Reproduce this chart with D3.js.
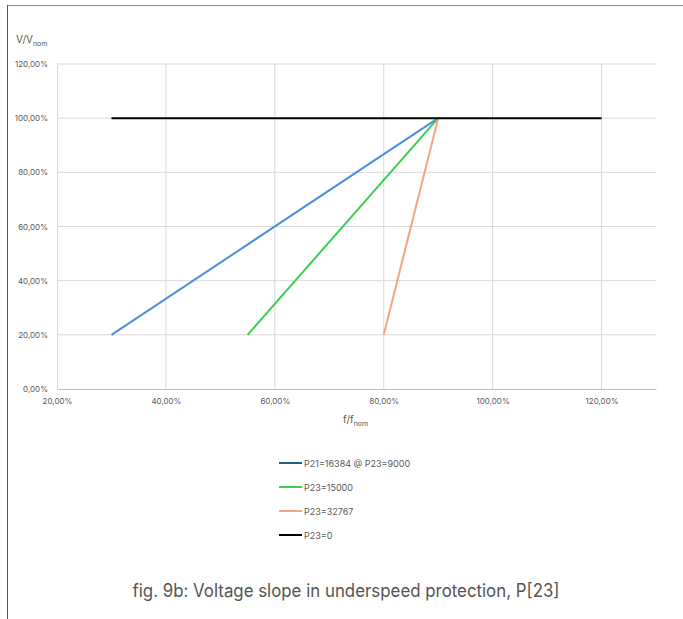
<!DOCTYPE html>
<html>
<head>
<meta charset="utf-8">
<script src="https://cdn.jsdelivr.net/npm/d3@7"></script>
<style>
  body { margin: 0; background: #fff; }
  text { font-family: Inter, "Noto Sans", sans-serif; }
</style>
</head>
<body>
<div id="chart"></div>
<script>
// Series (x = f/fnom, y = V/Vnom)
var seriesNames = ['P21=16384 @ P23=9000', 'P23=15000', 'P23=32767', 'P23=0'];
var seriesX = [[0.30, 0.90], [0.55, 0.90], [0.80, 0.90], [0.30, 1.20]];
var seriesY = [[0.20, 1.00], [0.20, 1.00], [0.20, 1.00], [1.00, 1.00]];
var xTicks = [0.2, 0.4, 0.6, 0.8, 1.0, 1.2];
var yTicks = [0, 0.2, 0.4, 0.6, 0.8, 1.0, 1.2];

var lineColors = ['#4a90d9', '#3ccf4e', '#f4a582', '#000000'];
var legendColors = ['#1f5f8c', '#3ccf4e', '#f4a582', '#000000'];

var width = 683, height = 619;
var margin = { top: 64, right: 27, bottom: 230, left: 57 };
var w = width - margin.left - margin.right;
var h = height - margin.top - margin.bottom;

var svg = d3.select('#chart').append('svg')
    .attr('width', width)
    .attr('height', height);

// frame
svg.append('line').attr('x1', 7).attr('x2', width).attr('y1', 5.5).attr('y2', 5.5)
    .attr('stroke', '#8a8a8a').attr('stroke-width', 1.2);
svg.append('line').attr('x1', 7.5).attr('x2', 7.5).attr('y1', 5).attr('y2', height)
    .attr('stroke', '#555').attr('stroke-width', 1);

var g = svg.append('g').attr('transform', 'translate(' + margin.left + ',' + margin.top + ')');

var x = d3.scaleLinear().domain([0.2, 1.3]).range([0, w]);
var y = d3.scaleLinear().domain([0, 1.2]).range([h, 0]);

var fmt = function (d) { return d3.format('.2f')(d * 100).replace('.', ',') + '%'; };

// grid
g.append('g').selectAll('line').data(xTicks.slice(1)).enter().append('line')
    .attr('x1', d => x(d)).attr('x2', d => x(d))
    .attr('y1', 0).attr('y2', h)
    .attr('stroke', '#d9d9d9');
g.append('g').selectAll('line').data(yTicks.slice(1)).enter().append('line')
    .attr('x1', 0).attr('x2', w)
    .attr('y1', d => y(d)).attr('y2', d => y(d))
    .attr('stroke', '#d9d9d9');

// axes
var xAxis = g.append('g')
    .attr('transform', 'translate(0,' + h + ')')
    .call(d3.axisBottom(x).tickValues(xTicks).tickFormat(fmt).tickSize(0).tickPadding(9));
xAxis.select('.domain').attr('stroke', '#bfbfbf');
xAxis.selectAll('text').attr('fill', '#595959').style('font-size', '8px');

var yAxis = g.append('g')
    .call(d3.axisLeft(y).tickValues(yTicks).tickFormat(fmt).tickSize(0).tickPadding(9));
yAxis.select('.domain').attr('stroke', '#d9d9d9');
yAxis.selectAll('text').attr('fill', '#595959').style('font-size', '8px');

// lines
var line = d3.line().x(d => x(d[0])).y(d => y(d[1]));
g.selectAll('.series').data(seriesNames).enter().append('path')
    .attr('class', 'series')
    .attr('d', (d, i) => line(d3.zip(seriesX[i], seriesY[i])))
    .attr('fill', 'none')
    .attr('stroke', (d, i) => lineColors[i])
    .attr('stroke-width', 2);

// axis titles
var yt = svg.append('text').attr('x', 16).attr('y', 43).attr('fill', '#595959').style('font-size', '10px');
yt.append('tspan').text('V/V');
yt.append('tspan').attr('dy', 3).style('font-size', '7px').text('nom');

var xt = svg.append('text').attr('x', 343).attr('y', 423).attr('fill', '#595959').style('font-size', '10px');
xt.append('tspan').text('f/f');
xt.append('tspan').attr('dy', 3).style('font-size', '7px').text('nom');

// legend
var leg = svg.append('g').selectAll('g').data(seriesNames).enter().append('g')
    .attr('transform', (d, i) => 'translate(279,' + (463 + i * 24) + ')');
leg.append('line').attr('x1', 0).attr('x2', 23).attr('y1', 0).attr('y2', 0)
    .attr('stroke', (d, i) => legendColors[i]).attr('stroke-width', 2);
leg.append('text').attr('x', 25).attr('y', 3.5)
    .attr('fill', '#595959').style('font-size', '9px')
    .text(d => d);

// caption
svg.append('text').attr('x', 346).attr('y', 597)
    .attr('text-anchor', 'middle')
    .attr('fill', '#555')
    .style('font-size', '18px')
    .attr('textLength', 427).attr('lengthAdjust', 'spacingAndGlyphs')
    .text('fig. 9b: Voltage slope in underspeed protection, P[23]');
</script>
</body>
</html>
